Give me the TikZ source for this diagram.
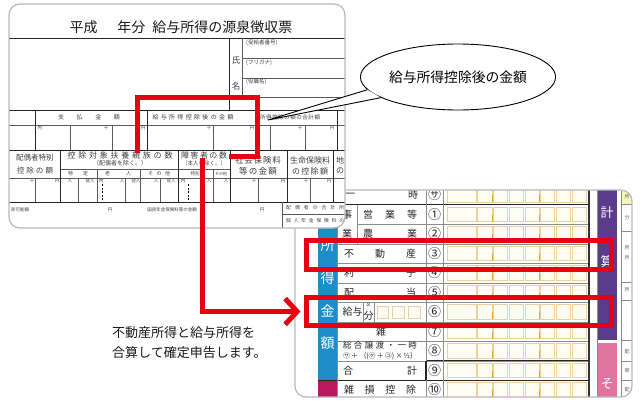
\documentclass[tikz,border=0pt]{standalone}
\usepackage{fontspec}
\setmainfont{Noto Sans CJK JP}
\usetikzlibrary{arrows.meta,shapes.geometric}
\newcommand{\fsz}[1]{\fontsize{#1pt}{#1pt}\selectfont}
\makeatletter
\newcommand\spreadw[2]{\makebox[#1pt]{\spr@a#2\relax}}
\def\spr@a#1{\ifx\relax#1\else#1\expandafter\spr@b\fi}
\def\spr@b#1{\ifx\relax#1\else\hfill#1\expandafter\spr@b\fi}
\makeatother
\definecolor{mred}{RGB}{230,0,18}
\definecolor{mblue}{RGB}{30,140,200}
\definecolor{mpurple}{RGB}{90,60,140}
\definecolor{mpink}{RGB}{225,115,160}
\definecolor{mmag}{RGB}{185,25,95}
\definecolor{cellline}{RGB}{236,208,158}
\definecolor{cellfill}{RGB}{255,252,244}
\definecolor{celltick}{RGB}{240,160,40}
\definecolor{cardline}{RGB}{185,185,185}
\definecolor{formline}{RGB}{90,90,90}
\definecolor{paleyel}{RGB}{248,244,190}
\tikzset{
 fl/.style={draw=formline, line width=0.5},
 fb/.style={draw=black!85, line width=0.8},
 ft/.style={inner sep=0pt, text=black!75},
 rl/.style={draw=black!45, line width=0.5},
 rd/.style={draw=black!85, line width=1.1},
 lab/.style={inner sep=0pt, text=black!85},
 acell/.style={draw=cellline, line width=0.8, fill=cellfill},
 ctick/.style={draw=celltick, line width=1.2},
 redbox/.style={draw=mred, line width=5, inner sep=0pt},
 card/.style={draw=cardline, line width=1.2, rounded corners=11},
 wch/.style={inner sep=0pt, text=white},
}
\begin{document}
\begin{tikzpicture}[x=1pt,y=-1pt]
\useasboundingbox (0,0) rectangle (640,402);
\fill[white] (0,0) rectangle (640,402);

%================ right card (tax return) ================
\fill[white, rounded corners=11] (295,190) rectangle (632,397);
\begin{scope}
\clip[rounded corners=11] (295,190) rectangle (632,397);
\fill[mblue] (318,204.75) rectangle (337,380.25);
\fill[mmag] (318,380.25) rectangle (337,400);
\fill[mpurple] (597,185) rectangle (617,340);
\fill[mpink] (597,343) rectangle (617,400);
\fill[paleyel] (621,185) rectangle (632,203.5);
% amount cells
\foreach \i in {0,...,10}{
  \pgfmathsetmacro{\yt}{185.25+19.5*\i}
  \pgfmathsetmacro{\yb}{\yt+19.5}
  \draw[acell] (447,\yt+2.5) rectangle (476,\yb-2.5);
  \foreach \k in {0,...,6}{
    \pgfmathsetmacro{\xa}{477.8+15.7*\k}
    \draw[acell] (\xa,\yt+2.5) rectangle (\xa+14.1,\yb-2.5);
  }
  \draw[ctick] (492.7,\yt+10) -- (492.7,\yb-2.5);
  \draw[ctick] (539.8,\yt+10) -- (539.8,\yb-2.5);
}
% row lines
\foreach \i in {3,...,9}{\draw[rl] (337,185.25+19.5*\i) -- (589,185.25+19.5*\i);}
\draw[rl] (357,224.25) -- (589,224.25);
\draw[rd] (318,204.75) -- (589,204.75);
\draw[rd] (426,360.75) -- (589,360.75);
\draw[rd] (318,380.25) -- (589,380.25);
% vertical lines
\draw[rl] (337,185) -- (337,400);
\draw[rl] (357,204.75) -- (357,243.75);
\draw[rl] (426,185) -- (426,400);
\draw[rl] (443,185) -- (443,400);
\draw[rd] (426,360.75) -- (426,380.25);
\draw[draw=black!80, line width=1.6] (589,185) -- (589,400);
\draw[rl] (597,185) -- (597,400);
\draw[rl] (621,185) -- (621,400);
\foreach \yy in {204,231,282,300,340,361,380}{\draw[rl] (621,\yy) -- (632,\yy);}
% gyu-yo row details
\draw[rl] (363,302.25) -- (363,321.75);
\draw[rl] (374,302.25) -- (374,321.75);
\draw[acell] (377,306) rectangle (388,318);
\draw[acell] (392,306) rectangle (404,318);
\draw[acell] (408,306) rectangle (420,318);
% strip letters
\node[wch] (s1) at (327.5,245) {\fsz{14}所};
\node[wch] (s2) at (327.5,278) {\fsz{14}得};
\node[wch] (s3) at (327.5,311) {\fsz{14}金};
\node[wch] (s4) at (327.5,343) {\fsz{14}額};
\node[wch] (p1) at (607,213) {\fsz{13}計};
\node[wch] (p2) at (607,262) {\fsz{13}算};
\node[wch] (p3) at (607,384) {\fsz{13}そ};
% row labels
\node[lab] (la0) at (350,195) {\fsz{10}一};
\node[lab] (lb0) at (413,195) {\fsz{10}時};
\node[lab] (la1) at (347,214.5) {\fsz{10}事};
\node[lab] (lb1) at (390,214.5) {\fsz{10}\spreadw{54}{営業等}};
\node[lab] (la2) at (347,234) {\fsz{10}業};
\node[lab] (lb2) at (390,234) {\fsz{10}\spreadw{54}{農業}};
\node[lab] (l3) at (380,253.5) {\fsz{10}\spreadw{72}{不動産}};
\node[lab] (l4) at (380,273) {\fsz{10}\spreadw{72}{利子}};
\node[lab] (l5) at (380,292.5) {\fsz{10}\spreadw{72}{配当}};
\node[lab] (l6) at (352.5,312) {\fsz{10}給与};
\node[lab, align=center] (l6b) at (368.5,312) {\fsz{4}区\\[1pt]分};
\node[lab] (l7) at (381,331.5) {\fsz{10}雑};
\node[lab] (l8) at (380,345.5) {\fsz{8.5}\spreadw{74}{総合譲渡・一時}};
\node[lab] (l8b) at (380,356.5) {\fsz{7}\makebox[74pt]{㋚\hfill＋\hfill｛(㋘\hfill＋\hfill㋙)\hfill×\hfill½｝}};
\node[lab] (l9) at (380,370.5) {\fsz{10}\spreadw{74}{合計}};
\node[lab] (l10) at (380,390) {\fsz{10}\spreadw{72}{雑損控除}};
% circled numbers
\node[lab] (c0) at (434.5,195) {\fsz{13}㋚};
\foreach \n/\c in {1/①,2/②,3/③,4/④,5/⑤,6/⑥,7/⑦,8/⑧,9/⑨,10/⑩}{
  \node[lab] (c\n) at (434.5,185.25+19.5*\n+9.75) {\fsz{13}\c};
}
% tiny right column texts
\node[lab, text=black!60] (q1) at (627,197) {\fsz{5}所};
\node[lab, text=black!60] (q2) at (627,218) {\fsz{5}分};
\node[lab, text=black!60] (q3) at (627,248) {\fsz{5}所};
\node[lab, text=black!60] (q4) at (627,258) {\fsz{5}所};
\node[lab, text=black!60] (q5) at (627,290) {\fsz{5}所};
\node[lab, text=black!60] (q6) at (627,352) {\fsz{5}配};
\node[lab, text=black!60] (q7) at (627,371) {\fsz{5}寄};
\node[lab, text=black!60] (q8) at (627,390) {\fsz{5}配};
\end{scope}
\draw[card] (295,190) rectangle (632,397);

%================ left card (withholding slip) ================
\fill[white, rounded corners=12] (9,4) rectangle (345,228);
\begin{scope}
\clip[rounded corners=12] (9,4) rectangle (345,228);
\node[ft, text=black!90] (title) at (181,27) {\fsz{14}平成\hspace{20pt}年分\hspace{7pt}給与所得の源泉徴収票};
\draw[fb] (9,38) -- (345,38);
\draw[fb] (229,38) -- (229,110);
\draw[fl] (242,38) -- (242,97);
\draw[fl] (242,58) -- (345,58);
\draw[fl] (242,78) -- (345,78);
\draw[fl] (229,97) -- (345,97);
\node[ft] (shi) at (236,60) {\fsz{8.5}氏};
\node[ft] (mei) at (236,86) {\fsz{8.5}名};
\node[ft, anchor=west] (n1) at (246,43) {\fsz{5.5}(受給者番号)};
\node[ft, anchor=west] (n2) at (246,63) {\fsz{5.5}(フリガナ)};
\node[ft, anchor=west] (n3) at (246,82) {\fsz{5.5}(役職名)};
% table lines
\draw[fb] (9,110) -- (345,110);
\draw[fl] (9,125) -- (345,125);
\draw[fb] (9,150) -- (345,150);
\draw[fl] (60,169) -- (230,169);
\draw[fl] (9,178) -- (345,178);
\draw[fb] (9,202) -- (345,202);
\draw[fl] (282,214) -- (345,214);
\foreach \xx in {35,147,257,337}{\draw[fb] (\xx,110) -- (\xx,150);}
\foreach \xx in {70,112,213,270,305}{\draw[fl] (\xx,125) -- (\xx,150);}
\foreach \xx in {60,178,230,287,333}{\draw[fb] (\xx,150) -- (\xx,202);}
\foreach \xx in {97,140,213}{\draw[fl] (\xx,169) -- (\xx,202);}
\foreach \xx in {35,78,125,160,258,310}{\draw[fl] (\xx,178) -- (\xx,202);}
\draw[fl] (282,202) -- (282,228);
\draw[black, line width=0.7, dash pattern=on 2pt off 1.5pt] (102,184) -- (102,200);
\draw[black, line width=0.7, dash pattern=on 2pt off 1.5pt] (188,184) -- (188,200);
% header row
\node[ft] (h1) at (89,117.5) {\fsz{6}\spreadw{62}{支払金額}};
\node[ft] (h2) at (193,117.5) {\fsz{6}\spreadw{81}{給与所得控除後の金額}};
\node[ft] (h3) at (290,117.5) {\fsz{5.5}\spreadw{60}{所得控除の額の合計額}};
% amount row units
\foreach \xx/\yy/\u in {40/128/内,106/128/千,143/128/円,209/128/千,252/128/円,300/128/千,332/128/円}{
  \node[ft] at (\xx,\yy) {\fsz{4.5}\u};
}
% second header block
\node[ft] (k1) at (35,158) {\fsz{7.5}配偶者特別};
\node[ft] (k2) at (35,171) {\fsz{7.5}\spreadw{36}{控除の額}};
\node[ft] (k3) at (120,155) {\fsz{8}\spreadw{105}{控除対象扶養親族の数}};
\node[ft] (k4) at (120,163.5) {\fsz{6}（配偶者を除く。）};
\node[ft] (k5) at (204,155) {\fsz{8}\spreadw{46}{障害者の数}};
\node[ft] (k6) at (204,163.5) {\fsz{5.5}（本人を除く。）};
\node[ft] (k7) at (78,173.5) {\fsz{5}\spreadw{20}{特定}};
\node[ft] (k8) at (118,173.5) {\fsz{5}\spreadw{26}{老人}};
\node[ft] (k9) at (159,173.5) {\fsz{5}\spreadw{22}{その他}};
\node[ft] (k10) at (195,173.5) {\fsz{4.5}特別};
\node[ft] (k11) at (221,173.5) {\fsz{4}その他};
\node[ft] (k12) at (258,160) {\fsz{8.5}\spreadw{46}{社会保険料}};
\node[ft] (k13) at (258,171) {\fsz{8.5}\spreadw{38}{等の金額}};
\node[ft] (k14) at (310,160) {\fsz{8}\spreadw{40}{生命保険料}};
\node[ft] (k15) at (310,171) {\fsz{8}\spreadw{36}{の控除額}};
\node[ft] (k16) at (340,160) {\fsz{8}地};
\node[ft] (k17) at (340,171) {\fsz{8}の};
% data row units
\foreach \xx/\u in {32/千,57/円,70/人,90/従人,101/内,122/人,136/従人,156/人,171/従人,183/内,209/人,226/人,254/千,283/円,306/千,329/円}{
  \node[ft] at (\xx,181) {\fsz{4.5}\u};
}
% bottom row
\node[ft, anchor=west] (e1) at (11,210) {\fsz{4.5}除可能額};
\node[ft] (e2) at (110,210) {\fsz{4.5}円};
\node[ft] (e3) at (172,210) {\fsz{4.5}国民年金保険料等の金額};
\node[ft] (e4) at (262,210) {\fsz{4.5}円};
\node[ft, anchor=west] (e5) at (286,208) {\fsz{4.8}\spreadw{58}{配偶者の合計所}};
\node[ft, anchor=west] (e6) at (286,221) {\fsz{4.8}\spreadw{58}{個人年金保険料の}};
\end{scope}
\draw[card] (9,4) rectangle (345,228);

%================ callout ================
\node[ellipse, draw=black, line width=0.9, fill=white, minimum width=178pt, minimum height=66pt, inner sep=0pt] (callout) at (458,77) {\fsz{13.8}給与所得控除後の金額};
\coordinate (ctip) at (268,120);
\fill[white] (callout.188) -- (ctip) -- (callout.195) -- cycle;
\draw[line width=0.9] (callout.188) -- (ctip) -- (callout.195);

%================ red highlights ================
\node[redbox, minimum width=305pt, minimum height=29pt] (box2) at (458.5,255) {};
\node[redbox, minimum width=305pt, minimum height=28pt] (box3) at (458.5,311.5) {};
\draw[mred, line width=5, line join=miter] (137,153) -- (137,97) -- (257,97) -- (257,156) -- (229,156);
\coordinate (box1bot) at (202,158);
\draw[mred, line width=5, -{Straight Barb[length=12pt,width=26pt]}, shorten >=3pt] (box1bot) |- (box3.west);

%================ note ================
\node[inner sep=0pt, anchor=west, text=black!90] (note1) at (112,333) {\fsz{13}不動産所得と給与所得を};
\node[inner sep=0pt, anchor=west, text=black!90] (note2) at (112,353) {\fsz{13}合算して確定申告します。};
\end{tikzpicture}
\end{document}
